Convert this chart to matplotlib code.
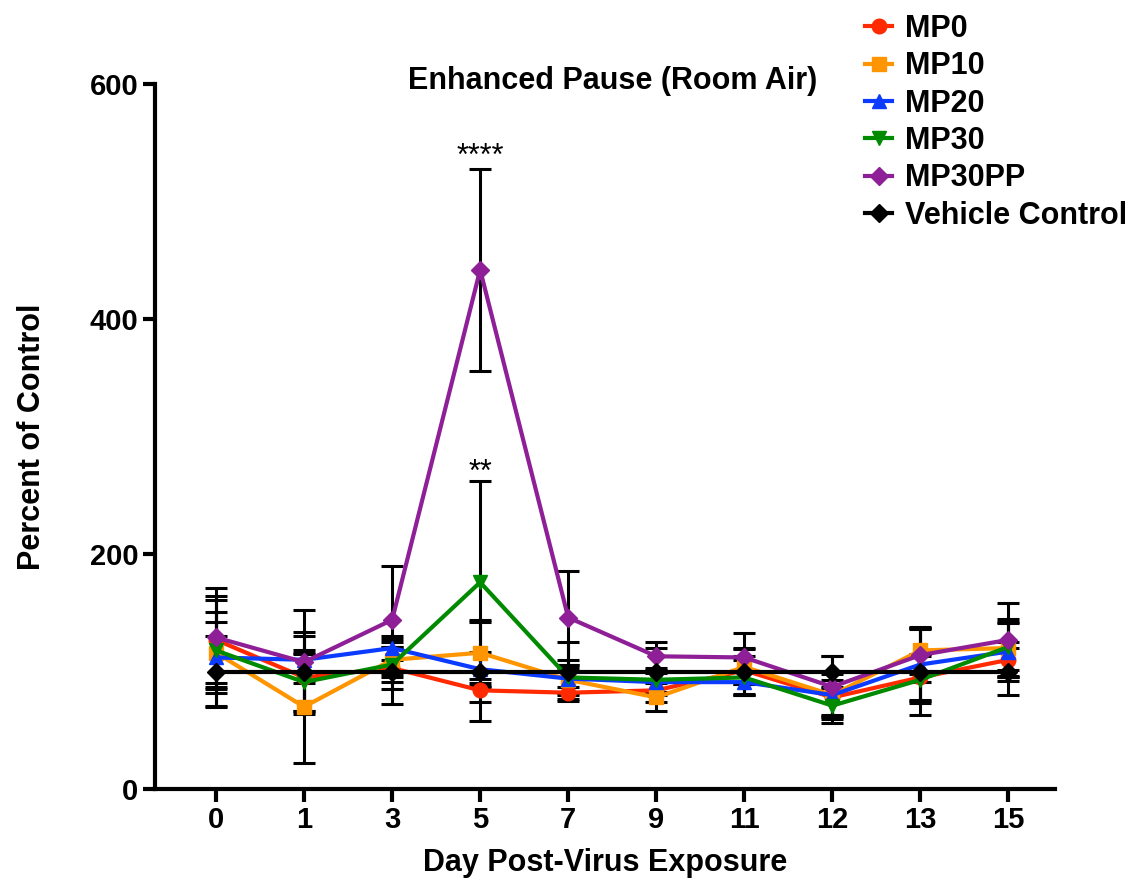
import numpy as np
import matplotlib.pyplot as plt
from matplotlib.lines import Line2D

plt.rcParams['font.family'] = ['Liberation Sans', 'DejaVu Sans']

days = ['0', '1', '3', '5', '7', '9', '11', '12', '13', '15']

mp0 = [127, 95, 103, 84, 82, 84, 101, 78, 95, 110]
mp0_err = [37, 20, 18, 10, 5, 10, 12, 15, 20, 15]
mp10 = [116, 70, 110, 116, 93, 78, 104, 80, 118, 120]
mp10_err = [45, 48, 15, 28, 10, 12, 15, 18, 20, 25]
mp20 = [112, 110, 120, 102, 94, 91, 91, 80, 106, 117]
mp20_err = [30, 20, 10, 15, 12, 8, 10, 20, 30, 25]
mp30 = [118, 91, 106, 176, 95, 93, 95, 71, 93, 121]
mp30_err = [33, 25, 15, 86, 15, 10, 15, 15, 20, 20]
mp30pp = [129, 108, 144, 442, 146, 113, 112, 87, 114, 127]
mp30pp_err = [42, 44, 46, 86, 40, 12, 21, 26, 23, 31]
vehicle = [100, 100, 100, 100, 100, 100, 100, 100, 100, 100]
vehicle_err = [30, 34, 28, 42, 25, 20, 20, 13, 37, 20]

series = [
    ('MP0', mp0, mp0_err, '#FF2A00', 'o'),
    ('MP10', mp10, mp10_err, '#FF9500', 's'),
    ('MP20', mp20, mp20_err, '#0A3BFF', '^'),
    ('MP30', mp30, mp30_err, '#008A00', 'v'),
    ('MP30PP', mp30pp, mp30pp_err, '#8E1F97', 'D'),
    ('Vehicle Control', vehicle, vehicle_err, 'black', 'D'),
]

fig = plt.figure(figsize=(11.34, 8.81), dpi=100)
ax = fig.add_axes([0.1367, 0.1044, 0.7937, 0.800])

x = np.arange(len(days))
handles = []
for name, vals, err, col, mk in series:
    ms = 10.5 if mk != 'D' else 9
    ax.errorbar(x, vals, yerr=err, color=col, marker=mk, ms=ms, lw=3,
                ecolor='black', elinewidth=2.2, capsize=8, capthick=2.2)
    handles.append(Line2D([], [], color=col, marker=mk, ms=ms, lw=3,
                          label=name))

# significance marks at day 5
ax.text(x[3], mp30pp[3] + mp30pp_err[3] - 3, '****', ha='center',
        va='bottom', fontsize=22)
ax.text(x[3], mp30[3] + mp30_err[3] - 6, '**', ha='center',
        va='bottom', fontsize=22)

ax.set_xlim(-0.693, 9.53)
ax.set_ylim(0, 600)
ax.set_xticks(x)
ax.set_xticklabels(days)
ax.set_yticks([0, 200, 400, 600])
for s in ['top', 'right']:
    ax.spines[s].set_visible(False)
for s in ['left', 'bottom']:
    ax.spines[s].set_linewidth(3)
ax.tick_params(width=3, length=9, labelsize=21, pad=3)
for lab in ax.get_xticklabels() + ax.get_yticklabels():
    lab.set_fontweight('bold')

ax.set_xlabel('Day Post-Virus Exposure', fontsize=22, fontweight='bold',
              labelpad=10)
ax.set_ylabel('Percent of Control', fontsize=22, fontweight='bold',
              labelpad=31)
ax.text(4.51, 603, 'Enhanced Pause (Room Air)', ha='center', va='center',
        fontsize=22, fontweight='bold')

fig.legend(handles=handles, loc='upper left', bbox_to_anchor=(0.752, 0.998),
           frameon=False, prop={'size': 22, 'weight': 'bold'},
           handlelength=0.9, handletextpad=0.4, labelspacing=0.24,
           borderaxespad=0)

fig.savefig('out.png', dpi=100)
